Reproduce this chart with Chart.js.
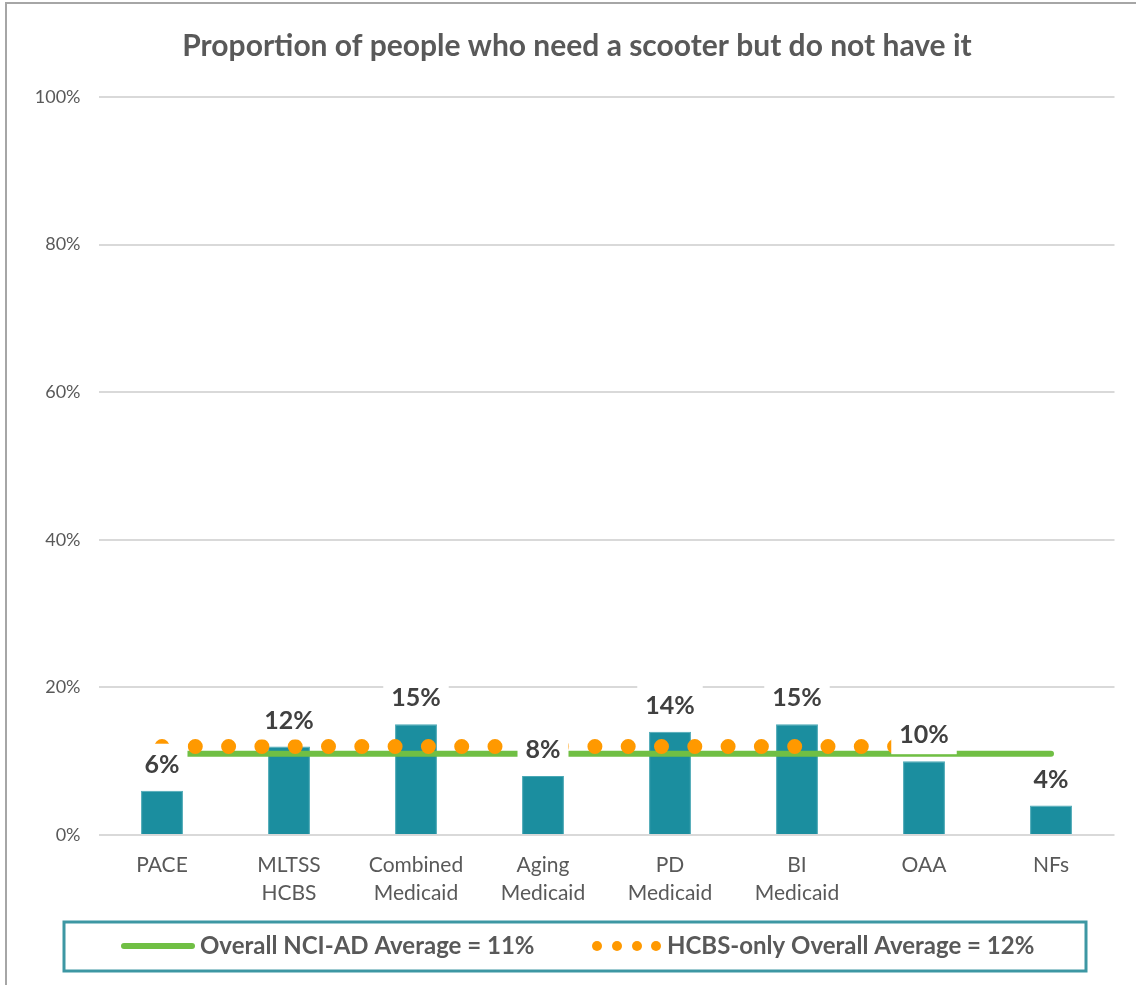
<!DOCTYPE html>
<html>
<head>
<meta charset="utf-8">
<script src="https://cdn.jsdelivr.net/npm/chart.js@4.4.1/dist/chart.umd.min.js"></script>
<style>
  html, body { margin: 0; padding: 0; background: #fff; }
  #wrap { position: relative; width: 1136px; height: 985px; }
</style>
</head>
<body>
<div id="wrap"><canvas id="ch-scooter"></canvas></div>
<script>
// ── Datos ────────────────────────────────────────────────────────────────
const CATEGORIES = ['PACE', ['MLTSS', 'HCBS'], ['Combined', 'Medicaid'], ['Aging', 'Medicaid'],
                    ['PD', 'Medicaid'], ['BI', 'Medicaid'], 'OAA', 'NFs'];
const NEED_SCOOTER = [6, 12, 15, 8, 14, 15, 10, 4];
const OVERALL_AVG  = [11, 11, 11, 11, 11, 11, 11, 11];
const HCBS_AVG     = [12, 12, 12, 12, 12, 12, 12, null];
const Y_TICKS      = [0, 20, 40, 60, 80, 100];

const TITLE   = 'Proportion of people who need a scooter but do not have it';
const LEG_OVERALL = 'Overall NCI-AD Average = 11%';
const LEG_HCBS    = 'HCBS-only Overall Average = 12%';

const FONT = 'Lato, "Open Sans", sans-serif';
const C_BAR = '#1b8e9f', C_GREEN = '#70bf44', C_ORANGE = '#ff9900';

// ── Marco, título y leyenda ──────────────────────────────────────────────
const framePlugin = {
    id: 'frame',
    beforeDraw(chart) {
        const ctx = chart.ctx;
        ctx.save();
        ctx.strokeStyle = '#a6a6a6';
        ctx.lineWidth = 2;
        ctx.beginPath();
        ctx.moveTo(6, 985); ctx.lineTo(6, 3); ctx.lineTo(1136, 3);
        ctx.stroke();
        ctx.fillStyle = '#595959';
        ctx.font = `bold 30px ${FONT}`;
        ctx.textAlign = 'center'; ctx.textBaseline = 'middle';
        ctx.fillText(TITLE, 577, 46);
        ctx.restore();
    },
    afterDraw(chart) {
        const ctx = chart.ctx;
        ctx.save();
        ctx.strokeStyle = '#3d97a3';
        ctx.lineWidth = 3;
        ctx.strokeRect(64, 922, 1022, 49);
        const y = 946;
        ctx.strokeStyle = C_GREEN; ctx.lineWidth = 6; ctx.lineCap = 'round';
        ctx.beginPath(); ctx.moveTo(124, y); ctx.lineTo(192, y); ctx.stroke();
        ctx.fillStyle = C_ORANGE;
        [597, 617, 637, 656].forEach(x => {
            ctx.beginPath(); ctx.arc(x, y, 5, 0, Math.PI * 2); ctx.fill();
        });
        ctx.fillStyle = '#595959';
        ctx.font = `bold 24px ${FONT}`;
        ctx.textAlign = 'left'; ctx.textBaseline = 'middle';
        ctx.fillText(LEG_OVERALL, 200, y);
        ctx.fillText(LEG_HCBS, 667, y);
        ctx.restore();
    },
};

// ── Etiquetas de datos con fondo blanco ──────────────────────────────────
const labelPlugin = {
    id: 'barLabels',
    afterDatasetsDraw(chart) {
        const ctx = chart.ctx;
        const meta = chart.getDatasetMeta(2);
        ctx.save();
        ctx.font = `bold 25px ${FONT}`;
        ctx.textAlign = 'center'; ctx.textBaseline = 'middle';
        meta.data.forEach((el, i) => {
            const txt = NEED_SCOOTER[i] + '%';
            const w = ctx.measureText(txt).width;
            const yc = el.y - 26;
            ctx.fillStyle = '#fff';
            ctx.fillRect(el.x - w / 2 - 8, yc - 21, w + 16, 40);
            ctx.fillStyle = '#404040';
            ctx.fillText(txt, el.x, yc);
        });
        ctx.restore();
    },
};

new Chart(document.getElementById('ch-scooter').getContext('2d'), {
    type: 'bar',
    data: {
        labels: CATEGORIES,
        datasets: [
            {
                type: 'line', label: LEG_HCBS, data: HCBS_AVG, order: 0,
                borderColor: C_ORANGE, borderWidth: 15, borderDash: [0, 33.3],
                borderCapStyle: 'round', pointRadius: 0, fill: false,
            },
            {
                type: 'line', label: LEG_OVERALL, data: OVERALL_AVG, order: 1,
                borderColor: C_GREEN, borderWidth: 6, borderCapStyle: 'round',
                pointRadius: 0, fill: false,
            },
            {
                type: 'bar', label: 'Need scooter', data: NEED_SCOOTER, order: 2,
                backgroundColor: C_BAR, borderColor: '#4aa8b5', borderWidth: 1,
                categoryPercentage: 1, barPercentage: 0.33,
            },
        ],
    },
    options: {
        responsive: true, maintainAspectRatio: false, animation: false,
        layout: { padding: { top: 97, right: 21.5, left: 0, bottom: 0 } },
        plugins: { legend: { display: false }, tooltip: { enabled: false }, title: { display: false } },
        scales: {
            x: {
                grid: { display: false }, border: { display: false },
                afterFit: s => { s.height = 150; },
                ticks: { color: '#595959', padding: 9, font: { family: FONT, size: 21, lineHeight: 1.3 }, maxRotation: 0, autoSkip: false },
            },
            y: {
                min: 0, max: 100,
                afterFit: s => { s.width = 98.5; },
                afterBuildTicks: s => { s.ticks = Y_TICKS.map(v => ({ value: v })); },
                grid: { color: '#d9d9d9', lineWidth: 2, drawTicks: false },
                border: { display: false },
                ticks: { color: '#595959', padding: 18, font: { family: FONT, size: 18 }, callback: v => v + '%' },
            },
        },
    },
    plugins: [framePlugin, labelPlugin],
});
</script>
</body>
</html>
